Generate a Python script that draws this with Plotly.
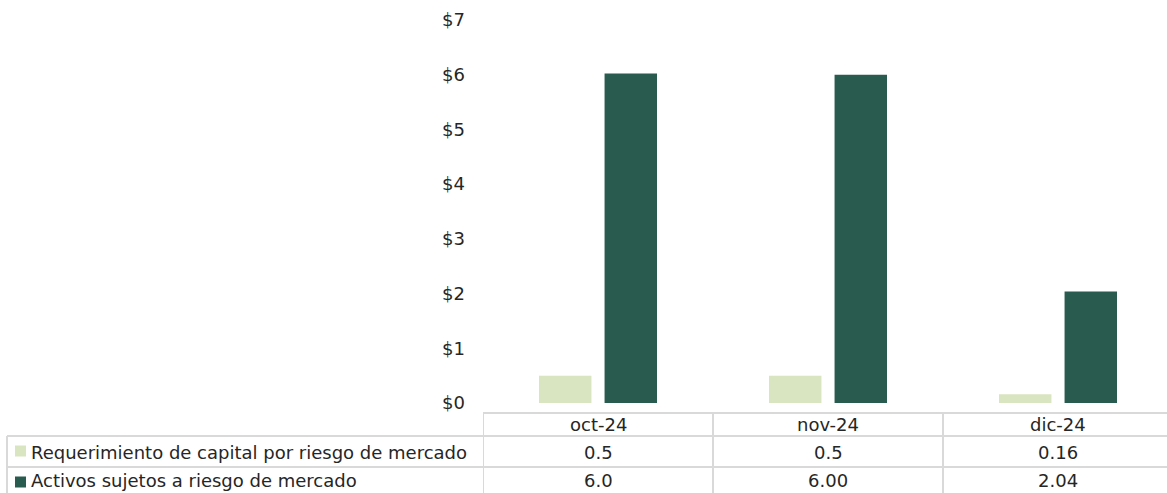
import plotly.graph_objects as go

# ---- data ----
categories = ["oct-24", "nov-24", "dic-24"]
series_names = ["Requerimiento de capital por riesgo de mercado",
                "Activos sujetos a riesgo de mercado"]
requerimiento = [0.50, 0.50, 0.16]
activos = [6.02, 6.00, 2.04]
requerimiento_labels = ["0.5", "0.5", "0.16"]
activos_labels = ["6.0", "6.00", "2.04"]
y_ticks = [0, 1, 2, 3, 4, 5, 6, 7]
y_tick_labels = ["$0", "$1", "$2", "$3", "$4", "$5", "$6", "$7"]

# ---- style ----
LIGHT = "#D9E4C0"
DARK = "#2A5B4F"
GRID = "#D9D9D9"
TXT = "#262626"
FONT = "DejaVu Sans"
FS = 18

W, H = 1167, 493
L, T = 483, 20
PLOT_BOTTOM = 403
PLOT_H = PLOT_BOTTOM - T
PLOT_W = W - L


def px_x(px):
    return (px - L) / PLOT_W


def px_y(py):
    return (PLOT_BOTTOM - py) / PLOT_H


fig = go.Figure()
fig.add_trace(go.Bar(x=categories, y=requerimiento, name=series_names[0],
                     marker=dict(color=LIGHT, line=dict(width=0))))
fig.add_trace(go.Bar(x=categories, y=activos, name=series_names[1],
                     marker=dict(color=DARK, line=dict(width=0))))

shapes = []
line = dict(color=GRID, width=2)
# horizontal table lines
shapes.append(dict(type="line", xref="paper", yref="paper",
                   x0=0, x1=px_x(W + 5), y0=px_y(413), y1=px_y(413), line=line))
for py in (436, 467):
    shapes.append(dict(type="line", xref="paper", yref="paper",
                       x0=px_x(7), x1=px_x(W + 5), y0=px_y(py), y1=px_y(py), line=line))
# vertical lines
shapes.append(dict(type="line", xref="paper", yref="paper",
                   x0=px_x(7), x1=px_x(7), y0=px_y(436), y1=px_y(H + 5), line=line))
for xb in (-0.5, 0.5, 1.5):
    shapes.append(dict(type="line", xref="x", yref="paper",
                       x0=xb, x1=xb, y0=px_y(413), y1=px_y(H + 5), line=line))
# legend keys
for color, cy in ((LIGHT, 451), (DARK, 482)):
    shapes.append(dict(type="rect", xref="paper", yref="paper",
                       x0=px_x(15), x1=px_x(26), y0=px_y(cy + 5.5), y1=px_y(cy - 5.5),
                       fillcolor=color, line=dict(width=0)))

annotations = []
f = dict(size=FS, color=TXT, family=FONT)
for i, c in enumerate(categories):
    annotations.append(dict(x=c, xref="x", y=px_y(424), yref="paper", text=c,
                            showarrow=False, font=f, xanchor="center", yanchor="middle"))
    annotations.append(dict(x=c, xref="x", y=px_y(452), yref="paper",
                            text=requerimiento_labels[i], showarrow=False, font=f,
                            xanchor="center", yanchor="middle"))
    annotations.append(dict(x=c, xref="x", y=px_y(481), yref="paper",
                            text=activos_labels[i], showarrow=False, font=f,
                            xanchor="center", yanchor="middle"))
for name, cy in zip(series_names, (452, 481)):
    annotations.append(dict(x=px_x(29), xref="paper", y=px_y(cy), yref="paper",
                            text=name, showarrow=False, font=f,
                            xanchor="left", yanchor="middle"))

fig.update_layout(
    width=W, height=H,
    margin=dict(l=L, r=0, t=T, b=H - PLOT_BOTTOM, pad=0),
    paper_bgcolor="white", plot_bgcolor="white",
    barmode="group", bargap=0.43, bargroupgap=0.2,
    showlegend=False,
    font=dict(family=FONT, size=FS, color=TXT),
    xaxis=dict(range=[-0.5, 2.5 - 6 / 230], showticklabels=False, showgrid=False,
               zeroline=False, showline=False, ticks=""),
    yaxis=dict(range=[0, 7], tickmode="array", tickvals=y_ticks, ticktext=y_tick_labels,
               showgrid=False, zeroline=False, showline=False, ticks="",
               ticklabelstandoff=17, tickfont=f),
    shapes=shapes,
    annotations=annotations,
)

fig.write_html("out.html",
               config={"displayModeBar": False},
               post_script="document.body.style.margin='0';document.body.style.overflow='hidden';")
